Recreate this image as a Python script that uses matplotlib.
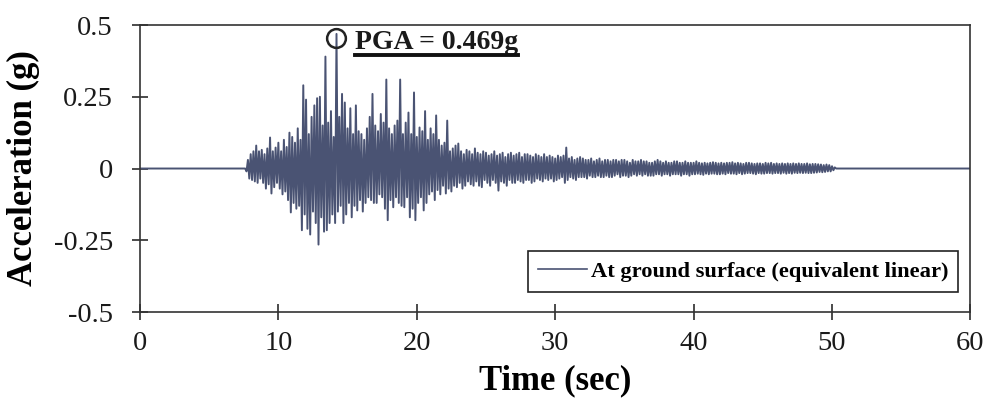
import numpy as np
import matplotlib
matplotlib.use("Agg")
import matplotlib.pyplot as plt
from matplotlib.lines import Line2D

plt.rcParams["font.family"] = ["Liberation Serif", "DejaVu Serif"]

# recorded motion, sampled every 0.1 s starting at 7.6 s (values in g)
start_time = 7.6
dt = 0.1
acc = [
    0.0, -0.01, 0.03, -0.035,
    0.05, -0.04, 0.06, -0.045, 0.08, -0.05, 0.06, -0.035, 0.065, -0.05,          # 8
    0.05, -0.07, 0.07, -0.055, 0.108, -0.087, 0.06, -0.065, 0.073, -0.05,        # 9
    0.09, -0.07, 0.06, -0.09, 0.10, -0.08, 0.075, -0.11, 0.125, -0.153,          # 10
    0.11, -0.12, 0.09, -0.14, 0.14, -0.13, 0.10, -0.215, 0.29, -0.16,            # 11
    0.24, -0.21, 0.12, -0.23, 0.18, -0.15, 0.22, -0.19, 0.245, -0.265,           # 12
    0.25, -0.17, 0.15, -0.22, 0.39, -0.215, 0.16, -0.19, 0.20, -0.16,            # 13
    0.11, -0.19, 0.469, -0.15, 0.18, -0.13, 0.26, -0.19, 0.23, -0.16,            # 14
    0.14, -0.12, 0.21, -0.17, 0.12, -0.13, 0.22, -0.146, 0.13, -0.11,            # 15
    0.12, -0.15, 0.10, -0.12, 0.14, -0.10, 0.18, -0.11, 0.26, -0.12,             # 16
    0.15, -0.12, 0.13, -0.09, 0.19, -0.10, 0.16, -0.14, 0.31, -0.18,             # 17
    0.14, -0.11, 0.12, -0.135, 0.15, -0.10, 0.167, -0.12, 0.31, -0.13,           # 18
    0.12, -0.135, 0.16, -0.10, 0.195, -0.17, 0.12, -0.14, 0.265, -0.18,          # 19
    0.11, -0.12, 0.143, -0.10, 0.13, -0.146, 0.20, -0.12, 0.10, -0.09,           # 20
    0.14, -0.08, 0.12, -0.11, 0.185, -0.075, 0.10, -0.09, 0.08, -0.06,           # 21
    0.09, -0.087, 0.167, -0.07, 0.06, -0.08, 0.07, -0.06, 0.08, -0.065,          # 22
    0.087, -0.05, 0.06, -0.07, 0.05, -0.06, 0.065, -0.045, 0.06, -0.055,         # 23
    0.05, -0.06, 0.07, -0.045, 0.055, -0.06, 0.05, -0.065, 0.06, -0.04,          # 24
    0.055, -0.05, 0.045, -0.06, 0.05, -0.04, 0.06, -0.05, 0.045, -0.077,         # 25
    0.05, -0.045, 0.055, -0.05, 0.04, -0.06, 0.05, -0.04, 0.055, -0.05,          # 26
    0.045, -0.05, 0.05, -0.04, 0.055, -0.045, 0.04, -0.05, 0.05, -0.04,          # 27
    0.05, -0.04, 0.045, -0.05, 0.04, -0.045, 0.05, -0.035, 0.045, -0.04,         # 28
    0.04, -0.045, 0.05, -0.035, 0.04, -0.04, 0.045, -0.035, 0.04, -0.045,        # 29
    0.035, -0.04, 0.045, -0.035, 0.04, -0.03, 0.045, -0.05, 0.073, -0.04,        # 30
    0.035, -0.03, 0.04, -0.035, 0.03, -0.04, 0.035, -0.03, 0.04, -0.03,          # 31
    0.035, -0.03, 0.03, -0.035, 0.03, -0.025, 0.035, -0.03, 0.025, -0.03,        # 32
    0.03, -0.025, 0.035, -0.03, 0.025, -0.03, 0.03, -0.025, 0.03, -0.03,         # 33
    0.025, -0.03, 0.03, -0.025, 0.03, -0.02, 0.025, -0.03, 0.03, -0.025,         # 34
    0.03, -0.025, 0.025, -0.03, 0.02, -0.025, 0.03, -0.02, 0.025, -0.025,        # 35
    0.025, -0.02, 0.03, -0.025, 0.025, -0.02, 0.025, -0.025, 0.02, -0.025,       # 36
    0.02, -0.025, 0.025, -0.02, 0.03, -0.02, 0.025, -0.025, 0.02, -0.02,         # 37
    0.025, -0.02, 0.02, -0.025, 0.02, -0.02, 0.025, -0.02, 0.025, -0.02,         # 38
    0.02, -0.025, 0.02, -0.02, 0.025, -0.02, 0.02, -0.025, 0.02, -0.02,          # 39
    0.02, -0.02, 0.025, -0.018, 0.02, -0.02, 0.018, -0.022, 0.02, -0.018,        # 40
    0.018, -0.02, 0.02, -0.018, 0.022, -0.018, 0.02, -0.02, 0.018, -0.02,        # 41
    0.02, -0.018, 0.018, -0.02, 0.02, -0.016, 0.02, -0.018, 0.022, -0.018,       # 42
    0.018, -0.02, 0.02, -0.016, 0.018, -0.02, 0.016, -0.018, 0.02, -0.016,       # 43
    0.02, -0.016, 0.018, -0.018, 0.016, -0.02, 0.018, -0.016, 0.018, -0.018,     # 44
    0.016, -0.018, 0.02, -0.016, 0.018, -0.016, 0.02, -0.018, 0.016, -0.016,     # 45
    0.018, -0.016, 0.016, -0.018, 0.018, -0.015, 0.016, -0.018, 0.018, -0.016,   # 46
    0.016, -0.018, 0.018, -0.015, 0.016, -0.016, 0.018, -0.015, 0.016, -0.016,   # 47
    0.016, -0.015, 0.018, -0.016, 0.015, -0.016, 0.016, -0.015, 0.016, -0.014,   # 48
    0.015, -0.012, 0.014, -0.013, 0.012, -0.012, 0.014, -0.01, 0.012, -0.01,     # 49
    0.008, -0.006, 0.004, 0.0,                                                   # 50
]
record_end = 60.0

pga_time = 14.2
pga_value = 0.469

x_ticks = [0, 10, 20, 30, 40, 50, 60]
y_ticks = [-0.5, -0.25, 0, 0.25, 0.5]
y_tick_labels = ["-0.5", "-0.25", "0", "0.25", "0.5"]

t = start_time + dt * np.arange(len(acc))
t = np.concatenate([[0.0], t, [record_end]])
a = np.concatenate([[0.0], acc, [0.0]])

line_color = "#4a5373"

fig = plt.figure(figsize=(9.87, 4.05), dpi=100)
ax = fig.add_axes([0.1418, 0.2296, 0.8414, 0.7086])

ax.plot(t, a, color=line_color, linewidth=1.4,
        label="At ground surface (equivalent linear)")

# PGA marker and label
ax.plot([pga_time], [pga_value - 0.015], marker="o", markersize=13.5,
        markerfacecolor="none", markeredgecolor="#222222", markeredgewidth=1.8,
        linestyle="none")
txt = ax.text(15.55, 0.418, f"PGA = {pga_value}g", fontsize=20,
              fontweight="bold", ha="left", va="baseline", color="#1a1a1a")

ax.set_xlim(0, 60)
ax.set_ylim(-0.5, 0.5)
ax.set_xticks(x_ticks)
ax.set_yticks(y_ticks)
ax.set_yticklabels(y_tick_labels)

ax.tick_params(axis="both", direction="inout", length=11, width=1.1,
               labelsize=20.5, colors="#1a1a1a")
ax.tick_params(axis="x", pad=8)
ax.tick_params(axis="y", pad=14)
for sp in ax.spines.values():
    sp.set_linewidth(1.2)
    sp.set_color("#333333")

ax.set_xlabel("Time (sec)", fontsize=25, fontweight="bold", labelpad=6)
ax.set_ylabel("Acceleration (g)", fontsize=25, fontweight="bold", labelpad=10)

leg = ax.legend(loc="lower right", bbox_to_anchor=(0.9855, 0.0697),
                borderaxespad=0, fancybox=False, framealpha=1,
                edgecolor="#222222", handlelength=2.2, handletextpad=0.15,
                borderpad=0.45, prop={"size": 16.2, "weight": "bold"})
leg.get_frame().set_linewidth(1.2)
for h in leg.get_lines():
    h.set_linewidth(1.2)

# underline under the PGA text
fig.canvas.draw()
bb = txt.get_window_extent().transformed(fig.transFigure.inverted())
fig.add_artist(Line2D([bb.x0, bb.x1], [bb.y0 - 0.002, bb.y0 - 0.002],
                      transform=fig.transFigure, color="#111111", linewidth=2.8))

fig.savefig("out.png", dpi=100)
